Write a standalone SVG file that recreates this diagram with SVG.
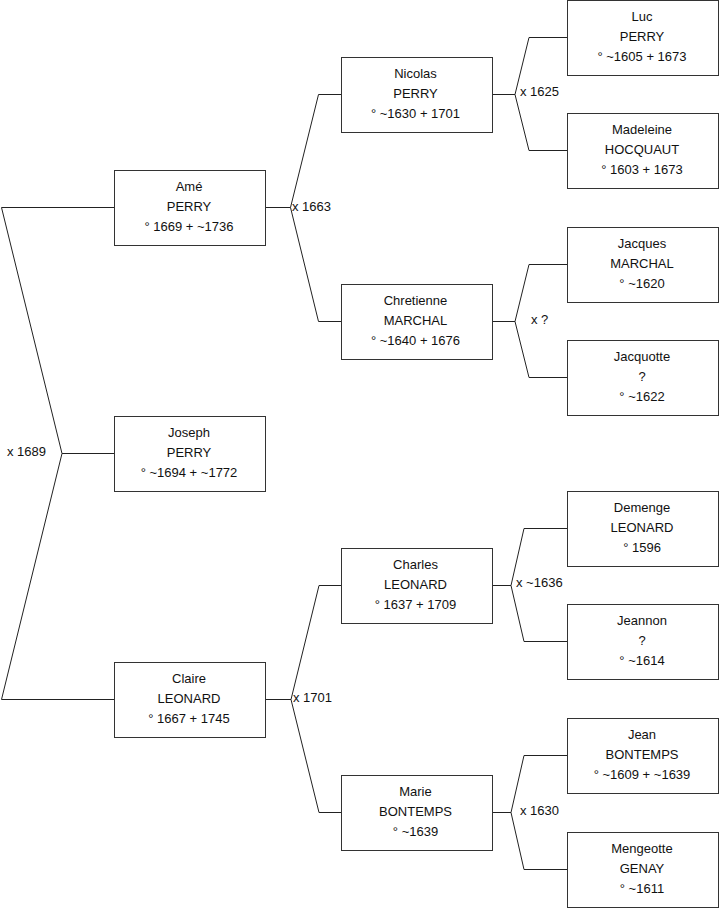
<svg xmlns="http://www.w3.org/2000/svg" width="719" height="908" viewBox="0 0 719 908">
<style>
rect.box{fill:#fff;stroke:#333;stroke-width:1}
.c path{fill:none;stroke:#222;stroke-width:1}
text{font-family:"Liberation Sans",Arial,sans-serif;font-size:13px;fill:#111}
.n text{text-anchor:middle}
</style>
<rect width="719" height="908" fill="#fff"/>
<g class="c" id="connectors">
<path d="M114,207.5 H1.5 L62,453.5 L1.5,699.5 H114 M62,453.5 H114"/>
<path d="M341,94.5 H318.5 L290.5,207.5 L318.5,321.5 H341 M265,207.5 H290.5"/>
<path d="M341,585.5 H319 L291,699.5 L319,812.5 H341 M265,699.5 H291"/>
<path d="M567,37.5 H529 L515,94.5 L529,150.5 H567 M492,94.5 H515"/>
<path d="M567,264.5 H529 L515,321.5 L529,377.5 H567 M492,321.5 H515"/>
<path d="M567,528.5 H524 L511,585.5 L524,641.5 H567 M492,585.5 H511"/>
<path d="M567,755.5 H524 L511,812.5 L524,869.5 H567 M492,812.5 H511"/>
<text x="7" y="455.5">x 1689</text>
<text x="292" y="211">x 1663</text>
<text x="293" y="702">x 1701</text>
<text x="520" y="96">x 1625</text>
<text x="531" y="324">x ?</text>
<text x="516" y="587">x ~1636</text>
<text x="520" y="814.5">x 1630</text>
</g>
<g class="n" id="ame"><rect class="box" x="114.5" y="170.5" width="151" height="75"/><text x="189" y="190.5">Amé</text><text x="189" y="210.5">PERRY</text><text x="189" y="230.5">° 1669 + ~1736</text></g>
<g class="n" id="joseph"><rect class="box" x="114.5" y="416.5" width="151" height="75"/><text x="189" y="436.5">Joseph</text><text x="189" y="456.5">PERRY</text><text x="189" y="476.5">° ~1694 + ~1772</text></g>
<g class="n" id="claire"><rect class="box" x="114.5" y="662.5" width="151" height="75"/><text x="189" y="682.5">Claire</text><text x="189" y="702.5">LEONARD</text><text x="189" y="722.5">° 1667 + 1745</text></g>
<g class="n" id="nicolas"><rect class="box" x="341.5" y="57.5" width="151" height="75"/><text x="415.5" y="77.5">Nicolas</text><text x="415.5" y="97.5">PERRY</text><text x="415.5" y="117.5">° ~1630 + 1701</text></g>
<g class="n" id="chretienne"><rect class="box" x="341.5" y="284.5" width="151" height="75"/><text x="415.5" y="304.5">Chretienne</text><text x="415.5" y="324.5">MARCHAL</text><text x="415.5" y="344.5">° ~1640 + 1676</text></g>
<g class="n" id="charles"><rect class="box" x="341.5" y="548.5" width="151" height="75"/><text x="415.5" y="568.5">Charles</text><text x="415.5" y="588.5">LEONARD</text><text x="415.5" y="608.5">° 1637 + 1709</text></g>
<g class="n" id="marie"><rect class="box" x="341.5" y="775.5" width="151" height="75"/><text x="415.5" y="795.5">Marie</text><text x="415.5" y="815.5">BONTEMPS</text><text x="415.5" y="835.5">° ~1639</text></g>
<g class="n" id="luc"><rect class="box" x="567.5" y="0.5" width="151" height="75"/><text x="642" y="20.5">Luc</text><text x="642" y="40.5">PERRY</text><text x="642" y="60.5">° ~1605 + 1673</text></g>
<g class="n" id="madeleine"><rect class="box" x="567.5" y="113.5" width="151" height="75"/><text x="642" y="133.5">Madeleine</text><text x="642" y="153.5">HOCQUAUT</text><text x="642" y="173.5">° 1603 + 1673</text></g>
<g class="n" id="jacques"><rect class="box" x="567.5" y="227.5" width="151" height="75"/><text x="642" y="247.5">Jacques</text><text x="642" y="267.5">MARCHAL</text><text x="642" y="287.5">° ~1620</text></g>
<g class="n" id="jacquotte"><rect class="box" x="567.5" y="340.5" width="151" height="75"/><text x="642" y="360.5">Jacquotte</text><text x="642" y="380.5">?</text><text x="642" y="400.5">° ~1622</text></g>
<g class="n" id="demenge"><rect class="box" x="567.5" y="491.5" width="151" height="75"/><text x="642" y="511.5">Demenge</text><text x="642" y="531.5">LEONARD</text><text x="642" y="551.5">° 1596</text></g>
<g class="n" id="jeannon"><rect class="box" x="567.5" y="604.5" width="151" height="75"/><text x="642" y="624.5">Jeannon</text><text x="642" y="644.5">?</text><text x="642" y="664.5">° ~1614</text></g>
<g class="n" id="jean"><rect class="box" x="567.5" y="718.5" width="151" height="75"/><text x="642" y="738.5">Jean</text><text x="642" y="758.5">BONTEMPS</text><text x="642" y="778.5">° ~1609 + ~1639</text></g>
<g class="n" id="mengeotte"><rect class="box" x="567.5" y="832.5" width="151" height="75"/><text x="642" y="852.5">Mengeotte</text><text x="642" y="872.5">GENAY</text><text x="642" y="892.5">° ~1611</text></g>
</svg>
